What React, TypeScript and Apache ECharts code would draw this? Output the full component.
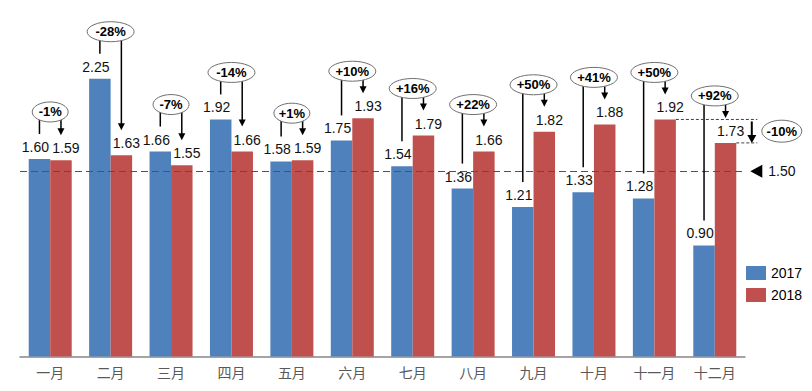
import React, { useEffect, useRef } from "react";
import * as echarts from "echarts";

const months = ["一月", "二月", "三月", "四月", "五月", "六月", "七月", "八月", "九月", "十月", "十一月", "十二月"];
const v2017 = [1.6, 2.25, 1.66, 1.92, 1.58, 1.75, 1.54, 1.36, 1.21, 1.33, 1.28, 0.9];
const v2018 = [1.59, 1.63, 1.55, 1.66, 1.59, 1.93, 1.79, 1.66, 1.82, 1.88, 1.92, 1.73];
const changeLabels = ["-1%", "-28%", "-7%", "-14%", "+1%", "+10%", "+16%", "+22%", "+50%", "+41%", "+50%", "+92%"];
const referenceValue = 1.5;
const referenceLabel = "1.50";
const compareFromIndex = 10;
const compareToIndex = 11;
const compareLabel = "-10%";

const BW = 21.5;
const FONT = "'Liberation Sans', Arial, 'Noto Sans CJK SC', sans-serif";

export default function App() {
  const ref = useRef<HTMLDivElement>(null);
  useEffect(() => {
    if (!ref.current) return;
    const chart = echarts.init(ref.current, undefined, { renderer: "svg" });
    const annData = months.map((_, i) => [i, v2017[i], v2018[i]]);
    const valueLabel = (dx: number) => ({
      show: true,
      position: "top",
      distance: 5,
      offset: [dx, 0],
      formatter: (p: any) => Number(p.value).toFixed(2),
      fontSize: 14,
      color: "#111",
      fontFamily: FONT,
    });
    const option: any = {
      animation: false,
      grid: { left: 20, right: 67, top: 10.8, bottom: 34.5 },
      xAxis: {
        type: "category",
        data: months,
        axisLine: { lineStyle: { color: "#868686", width: 1.5 } },
        axisTick: { show: false },
        axisLabel: { color: "#595959", fontSize: 14, margin: 8, fontFamily: "'Noto Sans CJK SC', sans-serif" },
      },
      yAxis: { type: "value", min: 0, max: 2.8, show: false },
      legend: {
        data: ["2017", "2018"],
        orient: "vertical",
        left: 741,
        top: 261,
        itemWidth: 20,
        itemHeight: 14,
        itemGap: 8,
        icon: "rect",
        textStyle: { fontSize: 14, color: "#000", fontFamily: FONT },
      },
      series: [
        {
          type: "bar",
          name: "2017",
          data: v2017,
          barWidth: BW,
          barGap: "0%",
          itemStyle: { color: "#4F81BD" },
          label: valueLabel(-4),
          markLine: {
            silent: true,
            symbol: "none",
            label: { show: false },
            lineStyle: { type: [7, 4], color: "#4040e0", width: 1 },
            data: [{ yAxis: referenceValue }],
          },
        },
        {
          type: "bar",
          name: "2018",
          data: v2018,
          barWidth: BW,
          barGap: "0%",
          itemStyle: { color: "#C0504D" },
          label: valueLabel(5),
        },
        {
          type: "custom",
          name: "ann",
          data: annData,
          encode: { x: 0, y: 1 },
          z: 10,
          silent: true,
          renderItem: (params: any, api: any) => {
            const i = api.value(0);
            const b = api.value(1);
            const r = api.value(2);
            const pb = api.coord([i, b]);
            const pr = api.coord([i, r]);
            const cx = pb[0];
            const xb = cx - BW / 2;
            const xr = cx + BW / 2;
            const yb = pb[1];
            const yr = pr[1];
            const top = Math.min(yb, yr);
            const ey = top - 47;
            const label = changeLabels[params.dataIndex];
            const rx = label.length * 5.5 + 1.5;
            const tip = yr - 25;
            return {
              type: "group",
              children: [
                { type: "line", shape: { x1: xb, y1: ey + 4, x2: xb, y2: yb - 25 }, style: { stroke: "#000", lineWidth: 1.5 } },
                { type: "line", shape: { x1: xr, y1: ey + 4, x2: xr, y2: tip - 6 }, style: { stroke: "#000", lineWidth: 1.5 } },
                { type: "polygon", shape: { points: [[xr - 3.5, tip - 7], [xr + 3.5, tip - 7], [xr, tip]] }, style: { fill: "#000" } },
                { type: "ellipse", shape: { cx, cy: ey, rx, ry: 10 }, style: { fill: "#fff", stroke: "#6f6f6f", lineWidth: 1 } },
                {
                  type: "text",
                  x: cx,
                  y: ey,
                  style: { text: label, font: `bold 13px ${FONT}`, fill: "#000", align: "center", verticalAlign: "middle" },
                },
              ],
            };
          },
        },
        {
          type: "custom",
          name: "cmp",
          data: [[compareToIndex, v2018[compareToIndex]]],
          encode: { x: 0, y: 1 },
          z: 10,
          silent: true,
          renderItem: (_params: any, api: any) => {
            const p1 = api.coord([compareFromIndex, v2018[compareFromIndex]]);
            const p2 = api.coord([compareToIndex, v2018[compareToIndex]]);
            const pRef = api.coord([compareToIndex, referenceValue]);
            const cx2 = p2[0];
            const xEnd = cx2 + 42.5;
            const ax = cx2 + 37;
            const y1 = p1[1];
            const y2 = p2[1];
            const yRef = pRef[1];
            const tx = cx2 + 35.5;
            return {
              type: "group",
              children: [
                { type: "line", shape: { x1: p1[0] + BW, y1, x2: xEnd, y2: y1 }, style: { stroke: "#404040", lineWidth: 1, lineDash: [3, 2] } },
                { type: "line", shape: { x1: cx2 + BW, y1: y2, x2: xEnd, y2 }, style: { stroke: "#404040", lineWidth: 1, lineDash: [3, 2] } },
                { type: "line", shape: { x1: ax, y1: y1 + 2, x2: ax, y2: y2 - 6 }, style: { stroke: "#000", lineWidth: 2 } },
                { type: "polygon", shape: { points: [[ax - 4.5, y2 - 8], [ax + 4.5, y2 - 8], [ax, y2]] }, style: { fill: "#000" } },
                { type: "ellipse", shape: { cx: cx2 + 67, cy: (y1 + y2) / 2, rx: 20, ry: 11 }, style: { fill: "#fff", stroke: "#6f6f6f", lineWidth: 1 } },
                {
                  type: "text",
                  x: cx2 + 67,
                  y: (y1 + y2) / 2,
                  style: { text: compareLabel, font: `bold 13px ${FONT}`, fill: "#000", align: "center", verticalAlign: "middle" },
                },
                { type: "polygon", shape: { points: [[tx, yRef], [tx + 12, yRef - 6.5], [tx + 12, yRef + 6.5]] }, style: { fill: "#000" } },
                {
                  type: "text",
                  x: cx2 + 53.5,
                  y: yRef,
                  style: { text: referenceLabel, font: `14px ${FONT}`, fill: "#111", align: "left", verticalAlign: "middle" },
                },
              ],
            };
          },
        },
      ],
    };
    chart.setOption(option);
    return () => chart.dispose();
  }, []);
  return <div ref={ref} style={{ position: "absolute", left: 0, top: 0, width: 812, height: 391 }} />;
}
